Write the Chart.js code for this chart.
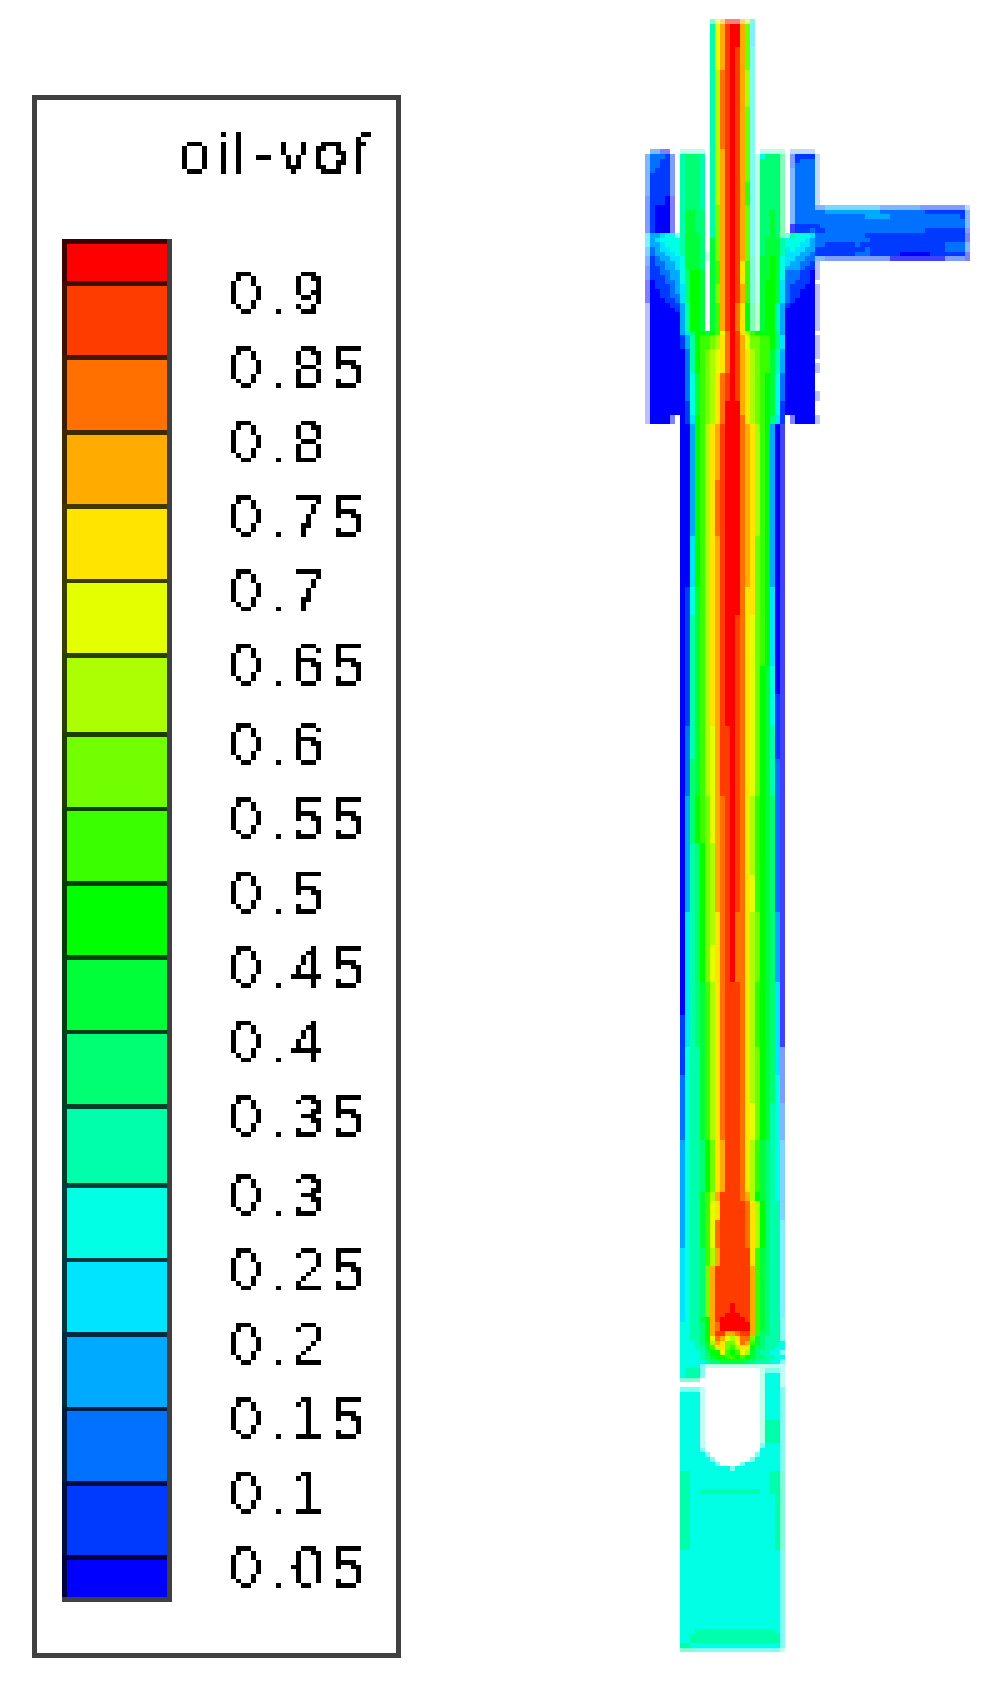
<!DOCTYPE html>
<html lang="en">
<head>
<title>oil-vof contours</title>
<style>
    html, body { margin: 0; background: #fff; overflow: hidden; }
    canvas { position: absolute; image-rendering: pixelated; }
    #legendChart { left: 2.1px; top: 2px; width: 418.66px !important; height: 1665.4px !important; }
    #fieldChart { left: 620px; top: 19px; width: 360px !important; height: 1637.5px !important; }
</style>
</head>
<body>
<canvas id="legendChart" width="84" height="358"></canvas>
<canvas id="fieldChart" width="72" height="352"></canvas>

<script src="https://cdn.jsdelivr.net/npm/chart.js"></script>
<script>
    // colour bands, lowest level first (letters A..S in fieldRows)
    var bandColors = ['#0000ff', '#0039ff', '#0072ff', '#00abff', '#00e4ff', '#00ffe4', '#00ffab', '#00ff72', '#00ff39', '#00ff00',
        '#39ff00', '#72ff00', '#abff00', '#e4ff00', '#ffe400', '#ffab00', '#ff7000', '#ff3c00', '#ff0000'];

    // band edges on the legend bar, top to bottom
    var bandEdges = [0.928125, 0.9, 0.85, 0.8, 0.75, 0.7, 0.65, 0.596875, 0.546875, 0.496875, 0.446875, 0.396875, 0.346875,
        0.29375, 0.24375, 0.19375, 0.14375, 0.09375, 0.04375, 0.015625];

    var tickLabels = ['0.9', '0.85', '0.8', '0.75', '0.7', '0.65', '0.6', '0.55', '0.5', '0.45', '0.4', '0.35', '0.3', '0.25', '0.2', '0.15', '0.1', '0.05'];

    // contour field: [first row, last row, cells per column]
    // upper case = band, lower case = half covered edge cell, t..x = faint edge cell, y = A mostly covered, . = outside
    var fieldRows = [
        [0, 0, "............. gnpssspng"],
        [1, 5, "............. GNPRSSPLe"],
        [6, 10, "............. GNPRSRPLf"],
        [11, 18, "............. GMQRSRPMf"],
        [19, 27, "............. GMQRSRPLf"],
        [28, 28, ".ccaa.. wwwww . GMPRSRPLf . wwwww . uuuuu ."],
        [29, 29, "cCCCBb. GHHHG . GMPRSRPLf w FHHHh . bBBBB u"],
        [30, 30, "cCCBBb. GHHHG . GMPRSRPLf w HHHHh . bBCCC u"],
        [31, 31, "cCCBBb. GHHHG . GMPRSRPLf w HHHHh . bCCCC u"],
        [32, 32, "cCBBBb. GHHHG . GMPRSRPLf w HHHHh . cCCCC u"],
        [33, 34, "cBBBBb. GHHHG . GMPRSRPLf w HHHHh . cCCCC u"],
        [35, 37, "cBBBBb. GHHHG . GMPRSRPKf w HHHHh . cCCCC u"],
        [38, 39, "bBBBAa. GHHHG . GMPRSRPKf w HHHHh . cCCCC u"],
        [40, 40, "bBAAAa. GHHHG . GLPRSRPLf w HHHHh . cCCCC cc ddddddddddd cccccccc bbbbbbbbb u"],
        [41, 41, "bBAAAa. GIIHH . GLPRSRPLf w HHIHh . cCCCC CC DDDDDDDDDDD CCCCCCCCC BBBBBBBB c"],
        [42, 42, "bBAAAa. GIIHH . GLPRSRPLf w HHIHh . cCCCC CCCCCCCCCC DDDDD CCCCCCCCCCCCCC B c"],
        [43, 43, "bBAAAa. GIIHH . GLPRSRPLf w HHIHh . cCCCC CCCCCCCCCCCCCCCCCCCCCCCCCCCCCC c"],
        [44, 44, "bBAAAa. GIIHH . GLPRSRPLf w HHIHh . yBBBB B CCCCCCCCCCCCCCCCCCCCCCCCCCCCC c"],
        [45, 45, "bBAAAa. GIIHH . GLPRSRPLf w HHIHh . yBBBC BB CCCCCCCCCCCCCCCCCCCC BBBBBBBB b"],
        [46, 46, "eDDEFFf GIIIH . GLPRSRPLf w HHIHh f GFFFE CCCCCCCCCC BBBBBBBBBBBBBBBBBBBB a"],
        [47, 47, "eDEFFFF GIIIH . ILPRSRPLf w HIIIG F FFFED CCCCCCCCCCC BBBBBBBBBBBBBBBBBBB a"],
        [48, 48, "eDDEFFF GIIIH . ILPRSRPLf w HIIIG F FFEED CC BBBBBB C BBBBBBBBBBBBBBBBB CCCC c"],
        [49, 49, "dCDEEFF GIIIH . ILPRSRPLf w HIIIG E FEEDD B BBBBBBBBB C BBBBBBBBBBBBBBB CCCC c"],
        [50, 50, "dCDDEEF GIIIH w ILPRSRPLf w HIIIG E EEDDC BBBBBBBB CCC BBBBBB AAAAAA BBBBBBB a"],
        [51, 51, "cBCDDEE FIIIH w ILPRSRPLg w IIJIF E EDDCC cc bbbbbb bbbbbbb yyyyyyyyyyy bbbb a"],
        [52, 52, "cBCCDDE FIIIH . IKPRSROKg w IIJIF E DDCCB t"],
        [53, 53, "bBBCDDE FIIIH . IKPRSROKg w IIJIF D DDCBB t"],
        [54, 54, "bBBCCDD FHJJI . IKPRSROKg w IIJIF C CCBBA t"],
        [55, 55, "bBBBCDD FHJJI . IKPRSROKg w IIJIF C CCBBA t"],
        [56, 56, "aABBCCD FHJJI . IKPRSROKg w IJJIE C CBBBA ."],
        [57, 57, "aABBBCD EHJJI . ILPRSRPKg w IJJIE C BBBAA t"],
        [58, 58, "aAABBCD EHJJI . ILPRSRPKg w IJJIE C BBAAA t"],
        [59, 59, "aAABBCC EHJJI . ILPRSRPKg w IJJIE C BBAAA t"],
        [60, 60, "aAAABBC EHJJI . ILPRSRPKg w IJJIE C BAAAA t"],
        [61, 61, "tAAAABB DGJJI . IKPRSQOJh x IJJGD B AAAAA t"],
        [62, 62, "tAAAAAB DGJJI . IKPRSQOJh x IJJGD A AAAAA t"],
        [63, 66, "tAAAAAA DGJJI . IKPRSQOJh x IJJGD A AAAAA t"],
        [67, 67, "tAAAAAA DEHJJIJKNQSROMKJJJJHD AAAAAA ."],
        [68, 70, "tAAAAAA BDGJKKLMOQSRPNLLKKJHE AAAAAA t"],
        [71, 72, "tAAAAAA ACGJKLMNOQSRPOMLKKIGD AAAAAA t"],
        [73, 73, "tAAAAAA ACGJKLMNOQSRPOMLKKIGD AAAAAA ."],
        [74, 75, "tAAAAAA ACGJKLMNOQSRPOMLKKIGD AAAAAA t"],
        [76, 79, "tAAAAAA ACFIKLMOQRSRPOMLKJIFC AAAAAA ."],
        [80, 81, "tAAAAAA ACFIKLMOQRSRPOMLKJIFC AAAAAA t"],
        [82, 84, "tAAAAAA ABFIKLMOQSSSPOMLKJIFB AAAAAA ."],
        [85, 86, "tAAAAa. ABEJKLMOQSSSQOMLKJHEB .aAAAA t"],
        [87, 98, "....... AADJKMOPRSSSQPOMKJDAy"],
        [99, 110, "....... AADJKMOQRSSSQPOMKJDAy"],
        [111, 121, "....... AAEJKMOPRSSSQPOLKJDAy"],
        [122, 127, "....... ABFIKMOPRSSSQOOLKJEAy"],
        [128, 138, "....... ABGIKMOPRSSRQONLKJEAy"],
        [139, 144, "....... ABGIKMOPRSSRQONLJIFAy"],
        [145, 151, "....... ABGIKMOPRSSRQONLJIFBy"],
        [152, 158, "....... ACGIKMNPRRSRQONLJIGBy"],
        [159, 166, "....... ACHIKMNPRRSRQONLJIGCy"],
        [167, 176, "....... ADHJKLNPQRSRQOMKJIHCy"],
        [177, 183, "....... ADGHJLMPQRSRQOMKJIHCy"],
        [184, 191, "....... ADGHJLMPQRSRQONKJIHCy"],
        [192, 198, "....... AEGHJLMOQRSQQOMLJIHDy"],
        [199, 206, "....... AEGHJLNOQRSQQOMLJIHDy"],
        [207, 213, "....... AEGHIKMOQRRRQOMKJIHEy"],
        [214, 220, "....... BEGHIKMOQRRRQOMKJIHEy"],
        [221, 226, "....... BFGGIKMOQRRRQOMLJIHEb"],
        [227, 232, "....... CFGGIKMOQRRRQOMLJIHFb"],
        [233, 240, "....... CFGGIKMOQRRRQONLJIGFc"],
        [241, 251, "....... DFGGHJLOPRRRQOMKIHGFd"],
        [252, 253, "....... DFGGIKMPRRRRQPMJIHGFd"],
        [254, 257, "....... DFGGIKNORRRRRQOMJHGGd"],
        [258, 263, "....... DFGGIKNQRRRRRQOMJHGGe"],
        [264, 267, "....... EFGGHKMPRRRRRROKIHGGe"],
        [268, 275, "....... EFGGHLPRRRRRRRPKIHGGe"],
        [276, 277, "....... EFGGHLPRRRSRRRPKIHGGe"],
        [278, 278, "....... EFGGHLPRRSSSRRPKIHGGe"],
        [279, 279, "....... EFGGIJPRSSSSSRPKIHGGf"],
        [280, 281, "....... FFGGHJPQSSSSSSPKIHGGf"],
        [282, 282, "....... FFGGHJPRRPPQRRPKHHGGf"],
        [283, 283, "....... FFGGHJNQPNMOQQLIHGGGf"],
        [284, 284, "....... FFFGHIMPOLLNQPKIHGGGF"],
        [285, 285, "....... FFFGGIKOOLKMOOJHHGGFF"],
        [286, 286, "....... FFFFGHJJNKJKNMIHGGFFf"],
        [287, 287, "....... FFFFGHIJJKKJKJIHHGGFF"],
        [288, 288, "....... FFFFFGHHIIIIIHHGGGFFf"],
        [289, 289, "....... FFFFf wwwwwwwwwwwwww vv"],
        [290, 290, "....... FGGGf ........... wfffv"],
        [291, 291, "....... FGGGf ........... wFFFv"],
        [292, 292, "....... gggg. ........... wFFFv"],
        [293, 293, "....... ..... ........... wFFFv"],
        [294, 294, "....... ffffv ........... wFFFf"],
        [295, 300, "....... FFFFv ........... wFFFf"],
        [301, 305, "....... FFFFv ........... wGGGf"],
        [306, 306, "....... FFFFv ........... fFFFf"],
        [307, 307, "....... FFFFf ........... FFFFf"],
        [308, 308, "....... FFFFFf.........fFFFFf"],
        [309, 309, "....... FFFFFFf.......fFFFFFf"],
        [310, 310, "....... FFFFFFFf....fFFFFFFFf"],
        [311, 311, "....... FFFFFFFFFFfFFFFFFFFFf"],
        [312, 315, "....... GGFFFFFFFFFFFFFFFFGGg"],
        [316, 316, "....... GGFFGGGGGGGGGGGGFFGGg"],
        [317, 328, "....... GGFFFFFFFFFFFFFFFFFGg"],
        [329, 345, "....... FFFFFFFFFFFFFFFFFFFFf"],
        [346, 346, "....... FFFGGGGGGGGGGGGGGGGFf"],
        [347, 348, "....... FFGGGGGGGGGGGGGGGGGGf"],
        [349, 349, "....... GGFFFFFFFFFFFFFFFFFFf"],
        [350, 350, "....... gggfffffffffffffffffv"]
    ];

    function rgba(hex, alpha) {
        var n = parseInt(hex.slice(1), 16);
        return 'rgba(' + (n >> 16) + ',' + ((n >> 8) & 255) + ',' + (n & 255) + ',' + alpha + ')';
    }

    // edge cells are the band colour thinned towards the white page
    var faintCells = { t: ['A', 0.25], u: ['C', 0.25], v: ['F', 0.25], w: ['G', 0.25], x: ['I', 0.25], y: ['A', 0.75] };

    function cellColor(ch) {
        if (faintCells[ch]) return rgba(bandColors[faintCells[ch][0].charCodeAt(0) - 65], faintCells[ch][1]);
        if (ch >= 'a') return rgba(bandColors[ch.charCodeAt(0) - 97], 0.5);
        return bandColors[ch.charCodeAt(0) - 65];
    }

    function darkEdge(hex) {
        var n = parseInt(hex.slice(1), 16);
        return 'rgb(' + ((n >> 16) >> 2) + ',' + (((n >> 8) & 255) >> 2) + ',' + ((n & 255) >> 2) + ')';
    }

    var fieldCells = [];
    var fieldColors = [];
    fieldRows.forEach(function (row) {
        row[2].replace(/ /g, '').split('').forEach(function (ch, col) {
            if (ch === '.') return;
            fieldCells.push({ x: col + 0.5, y: [row[0], row[1] + 1] });
            fieldColors.push(cellColor(ch));
        });
    });

    new Chart(document.getElementById('fieldChart'), {
        type: 'bar',
        data: {
            datasets: [{
                data: fieldCells,
                backgroundColor: fieldColors,
                barThickness: 1,
                inflateAmount: 0,
                grouped: false
            }]
        },
        options: {
            responsive: false,
            devicePixelRatio: 1,
            animation: false,
            events: [],
            plugins: { legend: { display: false }, tooltip: { enabled: false } },
            scales: {
                x: { type: 'linear', min: -5, max: 67, offset: false, display: false },
                y: { min: 0, max: 352, reverse: true, display: false }
            }
        }
    });

    // frame, title and the hard edged bitmap look of the legend text
    var legendDecor = {
        id: 'legendDecor',
        beforeDraw: function (chart) {
            var ctx = chart.ctx;
            ctx.letterSpacing = '1.3px';
            ctx.fillStyle = '#fff';
            ctx.fillRect(0, 0, chart.width, chart.height);
            ctx.strokeStyle = '#404040';
            ctx.lineWidth = 1;
            ctx.strokeRect(6.5, 20.5, 73, 335);
        },
        afterDraw: function (chart) {
            var ctx = chart.ctx;
            ctx.save();
            ctx.letterSpacing = '1.1px';
            ctx.font = '12px "Liberation Sans"';
            ctx.fillStyle = '#000';
            ctx.textAlign = 'left';
            ctx.textBaseline = 'alphabetic';
            ctx.fillText('oil-vof', 35, 37);
            ctx.restore();
            var img = ctx.getImageData(35, 22, 43, 332);
            for (var i = 0; i < img.data.length; i += 4) {
                var v = img.data[i] < 130 ? 0 : 255;
                img.data[i] = img.data[i + 1] = img.data[i + 2] = v;
            }
            ctx.putImageData(img, 35, 22);
        }
    };

    new Chart(document.getElementById('legendChart'), {
        type: 'bar',
        data: {
            labels: ['oil-vof'],
            datasets: bandColors.slice().reverse().map(function (color, i) {
                return {
                    data: [[bandEdges[i + 1], bandEdges[i]]],
                    backgroundColor: color,
                    borderColor: darkEdge(color),
                    borderWidth: { top: 1, left: 1, right: 0, bottom: 0 },
                    borderSkipped: false,
                    inflateAmount: 0,
                    grouped: false,
                    barPercentage: 1,
                    categoryPercentage: 1
                };
            })
        },
        plugins: [legendDecor],
        options: {
            responsive: false,
            devicePixelRatio: 1,
            animation: false,
            events: [],
            layout: { padding: { left: 12, top: 51, right: 6, bottom: 15 } },
            plugins: { legend: { display: false }, tooltip: { enabled: false } },
            scales: {
                x: {
                    afterFit: function (axis) { axis.height = 0; },
                    ticks: { display: false },
                    grid: { display: false, drawTicks: false },
                    border: { color: '#404040', width: 1 }
                },
                y: {
                    position: 'right',
                    min: bandEdges[bandEdges.length - 1],
                    max: bandEdges[0],
                    afterFit: function (axis) {
                        axis.width = 45;
                        axis.paddingTop = 0;
                        axis.paddingBottom = 0;
                    },
                    afterBuildTicks: function (axis) {
                        axis.ticks = tickLabels.map(function (label, i) { return { value: bandEdges[i + 1], label: label }; });
                    },
                    afterTickToLabelConversion: function (axis) {
                        axis.ticks.forEach(function (tick, i) { tick.label = tickLabels[i]; });
                    },
                    ticks: {
                        autoSkip: false,
                        color: '#000',
                        padding: 12.5,
                        labelOffset: 4,
                        font: { family: '"Liberation Sans"', size: 12 }
                    },
                    grid: { display: false, drawTicks: false },
                    border: { color: '#404040', width: 1 }
                }
            }
        }
    });
</script>
</body>
</html>
